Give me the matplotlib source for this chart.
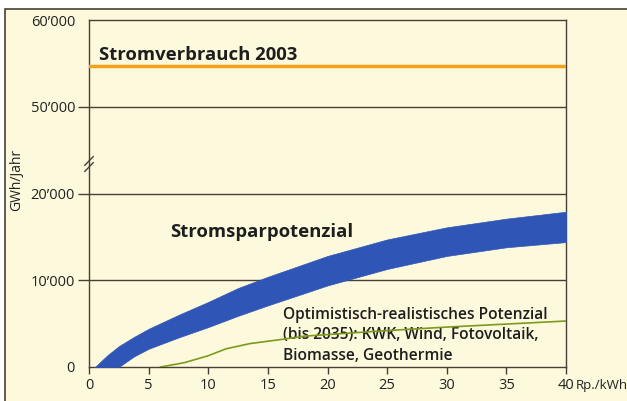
import matplotlib
matplotlib.use("Agg")
import matplotlib.pyplot as plt
from matplotlib.patches import Rectangle
import numpy as np

plt.rcParams['font.family'] = ['Open Sans', 'DejaVu Sans']

# --- data (GWh/Jahr vs Rp./kWh) ---
verbrauch_2003 = 54700

spar_x = [0.5, 1.5, 2.5, 3.75, 5, 7.5, 10, 12.5, 15, 20, 25, 30, 35, 40]
spar_hi = [0, 1300, 2400, 3450, 4400, 6000, 7500, 9100, 10400, 12800, 14700, 16100, 17100, 17900]
spar_lo_x = [2.5, 3.75, 5, 7.5, 10, 12.5, 15, 20, 25, 30, 35, 40]
spar_lo = [0, 1200, 2100, 3400, 4600, 5900, 7100, 9400, 11300, 12800, 13800, 14400]

pot_x = [6, 8, 10, 11.5, 13.5, 16, 18, 25, 30, 35, 40]
pot_y = [0, 500, 1300, 2100, 2700, 3150, 3550, 4200, 4600, 4950, 5300]

y_ticks = [0, 10000, 20000, 50000, 60000]
y_labels = ["0", "10\u2019000", "20\u2019000", "50\u2019000", "60\u2019000"]
x_ticks = [0, 5, 10, 15, 20, 25, 30, 35, 40]

BG = '#fdf9dc'
LINE = '#4a3f36'


def to_pos(v):
    # broken axis: 0..20'000 and 50'000..60'000 share equal spacing
    v = np.asarray(v, dtype=float)
    return np.where(v <= 20000, v / 10000, 3 + (v - 50000) / 10000)


fig = plt.figure(figsize=(6.27, 4.01), dpi=100)
fig.patch.set_facecolor('white')
frame = Rectangle((5 / 627, -0.01), 1.0, 1 - 9 / 401 + 0.01,
                  transform=fig.transFigure, facecolor=BG,
                  edgecolor=LINE, linewidth=1.2, zorder=-5)
fig.add_artist(frame)

ax = fig.add_axes([89 / 627, 1 - 367 / 401, (566 - 89) / 627, (367 - 20) / 401])
ax.set_zorder(1)
ax.set_facecolor(BG)
ax.set_xlim(0, 40)
ax.set_ylim(0, 4)

for s in ax.spines.values():
    s.set_color(LINE)
    s.set_linewidth(1.0)

# grid lines
for v in [10000, 20000, 50000]:
    ax.axhline(to_pos(v), color=LINE, lw=1.0, zorder=1)

# Stromsparpotenzial band
x_band = np.array(spar_x)
lo_interp = np.interp(x_band, spar_lo_x, spar_lo, left=0)
ax.fill_between(x_band, to_pos(lo_interp), to_pos(spar_hi),
                color='#2f56b6', lw=0.5, zorder=3)

# Stromverbrauch 2003
ax.axhline(to_pos(verbrauch_2003), color='#f2a21c', lw=2.5, zorder=3)

# erneuerbares Potenzial
ax.plot(pot_x, to_pos(pot_y), color='#7d9a1c', lw=1.2, zorder=4)

ax.set_yticks(to_pos(y_ticks))
ax.set_yticklabels(y_labels)
ax.set_xticks(x_ticks)
ax.tick_params(axis='y', length=8, width=1.0, color=LINE, labelsize=10.5,
               labelcolor='#222222', pad=2)
ax.tick_params(axis='x', length=5, width=1.0, color=LINE, labelsize=10.5,
               labelcolor='#222222', pad=3)
for i in (0, 4):
    ax.yaxis.get_major_ticks()[i].tick1line.set_visible(False)

ax.set_ylabel('GWh/Jahr', fontsize=10, color='#222222')
ax.yaxis.set_label_coords(-0.136, 0.54)

ax.annotate('Rp./kWh', xy=(40, 0), xycoords='data', xytext=(7, -18),
            textcoords='offset points', fontsize=9.5, color='#222222',
            ha='left', va='bottom', annotation_clip=False)

# axis break marker
for dy in (-0.035, 0.035):
    ax.plot([-0.35, 0.35], 2.34 + dy + np.array([-0.05, 0.05]),
            color=LINE, lw=1.0, clip_on=False, zorder=5)

ax.text(0.8, to_pos(55400), 'Stromverbrauch 2003', fontsize=13.3,
        fontweight='bold', color='#1e1e1e', va='baseline')
ax.text(6.8, 1.50, 'Stromsparpotenzial', fontsize=13.3,
        fontweight='bold', color='#1e1e1e', va='baseline')
ax.text(16.25, 0.085,
        'Optimistisch-realistisches Potenzial\n(bis 2035): KWK, Wind, Fotovoltaik,\nBiomasse, Geothermie',
        fontsize=11.2, fontweight='semibold', color='#1e1e1e',
        va='baseline', linespacing=1.35, zorder=2)

fig.savefig('out.png', dpi=100, facecolor=fig.get_facecolor())
